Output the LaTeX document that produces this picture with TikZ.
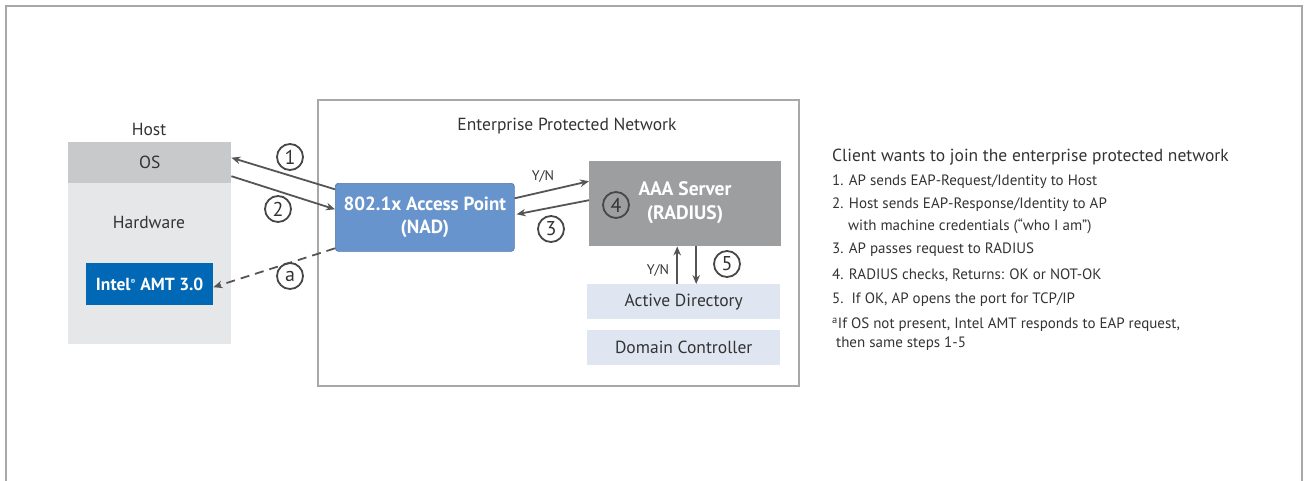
\documentclass[tikz,border=0pt]{standalone}
\usepackage{fontspec}
\setmainfont{PT Sans}
\usetikzlibrary{positioning,arrows.meta}

\definecolor{txtgray}{HTML}{333333}
\definecolor{arrgray}{HTML}{555555}
\definecolor{framegray}{HTML}{A8A8A8}
\definecolor{osgray}{HTML}{C8C9CB}
\definecolor{hwgray}{HTML}{E6E7E8}
\definecolor{amtblue}{HTML}{0068B5}
\definecolor{apblue}{HTML}{6794CC}
\definecolor{aaagray}{HTML}{9D9EA0}
\definecolor{adblue}{HTML}{DFE6F1}

\tikzset{
  flow/.style={-{Stealth[length=9pt,width=7.5pt]}, line width=1.8pt, draw=arrgray},
  stepnum/.style={circle, draw=txtgray!90, line width=1.8pt, minimum size=26pt,
    inner sep=0pt, text=txtgray, font=\fontsize{20}{20}\selectfont},
  box/.style={inner sep=0pt, anchor=north west, align=center},
  label/.style={text=txtgray, font=\fontsize{17.5}{17.5}\selectfont},
  note/.style={text=txtgray, anchor=west, inner sep=0pt, font=\fontsize{15}{18}\selectfont},
}

\begin{document}
\begin{tikzpicture}[x=1pt, y=-1pt]
  \useasboundingbox (0,0) rectangle (1304,480);
  \draw[framegray, line width=2pt] (5.5,500) -- (5.5,5.5) -- (1301.5,5.5) -- (1301.5,500);

  % host side
  \node[label] (host) at (149,129) {Host};
  \node[box, fill=hwgray, minimum width=163pt, minimum height=161pt] (hw) at (68,183) {};
  \node[box, fill=osgray, minimum width=163pt, minimum height=41pt, label] (os) at (68,142) {OS};
  \node[label] (hwtext) at (149,222) {Hardware};
  \node[box, fill=amtblue, minimum width=127pt, minimum height=42pt, text=white,
    font=\fontsize{17.5}{17.5}\selectfont\bfseries] (amt) at (86,263) {Intel\textsuperscript{\scriptsize\textregistered} AMT 3.0};

  % protected network
  \draw[framegray, line width=2.5pt] (318,100) rectangle (799,386);
  \node[label] (epn) at (567,126) {Enterprise Protected Network};
  \node[box, fill=apblue, draw=apblue!80!black, line width=0.6pt, rounded corners=3pt,
    minimum width=179pt, minimum height=68pt, text=white,
    font=\fontsize{19}{23}\selectfont\bfseries] (ap) at (335,183) {802.1x Access Point\\(NAD)};
  \node[box, fill=aaagray, minimum width=192pt, minimum height=85pt] (aaa) at (589,161) {};
  \node[text=white, align=center, font=\fontsize{19.5}{24}\selectfont\bfseries] (aaatext) at (685,203) {AAA Server\\(RADIUS)};
  \node[box, fill=adblue, minimum width=193pt, minimum height=35pt, label] (ad) at (587,284) {Active Directory};
  \node[box, fill=adblue, minimum width=193pt, minimum height=35pt, label] (dc) at (587,330) {Domain Controller};

  % connectors
  \draw[flow] ([yshift=28pt]ap.west) -- ([yshift=5pt]os.east);
  \draw[flow] ([yshift=-13.5pt]os.east) -- ([yshift=8pt]ap.west);
  \draw[flow, dashed, dash pattern=on 9pt off 6pt] ([yshift=-31pt]ap.west) -- ([yshift=-3pt]amt.east);
  \draw[flow] ([yshift=19pt]ap.east) -- ([yshift=22.5pt]aaa.west);
  \draw[flow] ([yshift=3.5pt]aaa.west) -- ([yshift=3pt,xshift=2pt]ap.east);
  \draw[flow] ([xshift=-6.5pt]ad.north) -- ([xshift=-6.5pt]ad.north |- aaa.south);
  \draw[flow] ([xshift=12.5pt]ad.north |- aaa.south) -- ([xshift=12.5pt]ad.north);
  \node[text=txtgray, font=\fontsize{14}{14}\selectfont] (yn1) at (543,176) {Y/N};
  \node[text=txtgray, font=\fontsize{14}{14}\selectfont] (yn2) at (658,270) {Y/N};

  % step numbers
  \node[stepnum] (s1) at (290,157) {1};
  \node[stepnum] (s2) at (278,209) {2};
  \node[stepnum] (sa) at (290,276) {a};
  \node[stepnum] (s3) at (551,229) {3};
  \node[stepnum] (s4) at (616,205) {4};
  \node[stepnum] (s5) at (727,264) {5};

  % explanation
  \node[note, font=\fontsize{17.5}{20}\selectfont] (title) at (832,157) {Client wants to join the enterprise protected network};
  \node[note] (n1) at (832,182) {1. AP sends EAP-Request/Identity to Host};
  \node[note] (n2) at (832,205) {2. Host sends EAP-Response/Identity to AP};
  \node[note] (n2b) at (848,226) {with machine credentials (“who I am”)};
  \node[note] (n3) at (832,250) {3. AP passes request to RADIUS};
  \node[note] (n4) at (832,275) {4. RADIUS checks, Returns: OK or NOT-OK};
  \node[note] (n5) at (832,300) {5.\ \ If OK, AP opens the port for TCP/IP};
  \node[note] (na) at (832,325) {\textsuperscript{a}If OS not present, Intel AMT responds to EAP request,};
  \node[note] (nab) at (836,344) {then same steps 1-5};
\end{tikzpicture}
\end{document}
